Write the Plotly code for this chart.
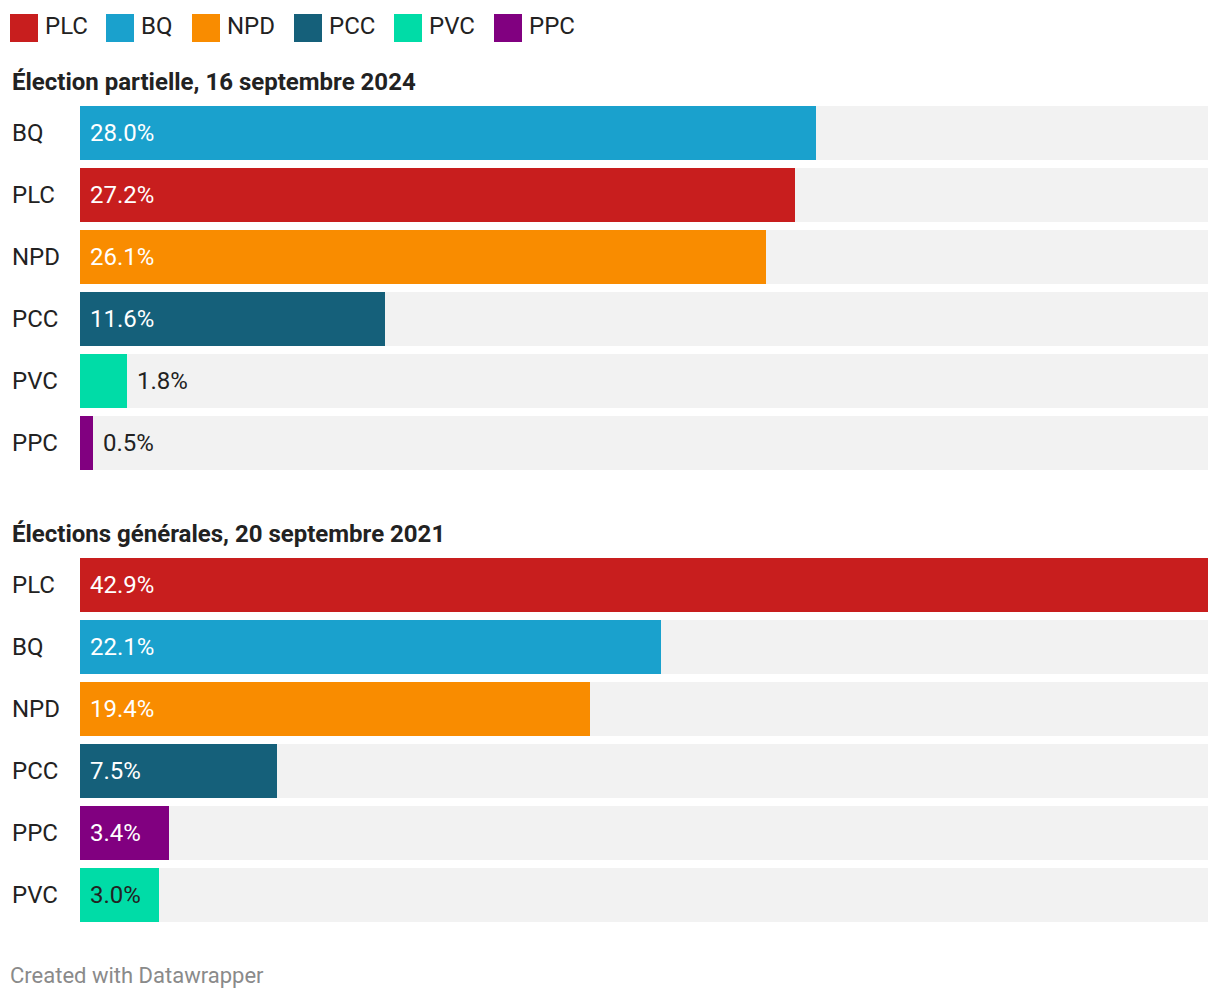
import plotly.graph_objects as go

# ---- data ----
parties = ["PLC", "BQ", "NPD", "PCC", "PVC", "PPC"]
party_colors = ["#c81e1e", "#1aa1cd", "#f98c00", "#15607a", "#00dca7", "#810080"]

title_2024 = "Élection partielle, 16 septembre 2024"
cats_2024 = ["BQ", "PLC", "NPD", "PCC", "PVC", "PPC"]
vals_2024 = [28.0, 27.2, 26.1, 11.6, 1.8, 0.5]

title_2021 = "Élections générales, 20 septembre 2021"
cats_2021 = ["PLC", "BQ", "NPD", "PCC", "PPC", "PVC"]
vals_2021 = [42.9, 22.1, 19.4, 7.5, 3.4, 3.0]

footer = "Created with Datawrapper"

# ---- layout helpers ----
OFF = 8  # page body margin
W, H = 1220 - 2 * OFF, 1000 - 2 * OFF
FONT = "Roboto"
DARK = "#222222"
color_of = dict(zip(parties, party_colors))
xmax = max(max(vals_2024), max(vals_2021))


def px_x(p):
    """page pixel -> paper x"""
    return (p - OFF) / W


def px_y(p):
    """page pixel -> paper y"""
    return 1 - (p - OFF) / H


fig = go.Figure()
annotations = []
shapes = []

panels = [
    (cats_2024, vals_2024, title_2024, "x", "y", 82),
    (cats_2021, vals_2021, title_2021, "x2", "y2", 534),
]

for cats, vals, title, xa, ya, ty in panels:
    ypos = list(range(len(cats)))
    fig.add_trace(go.Bar(
        x=[xmax] * len(cats), y=ypos, orientation="h", width=54 / 62,
        marker=dict(color="#f2f2f2", line=dict(width=0)),
        xaxis=xa, yaxis=ya, hoverinfo="skip", showlegend=False))
    fig.add_trace(go.Bar(
        x=vals, y=ypos, orientation="h", width=54 / 62,
        marker=dict(color=[color_of[c] for c in cats], line=dict(width=0)),
        xaxis=xa, yaxis=ya, showlegend=False,
        hovertemplate="%{x:.1f}%<extra></extra>"))
    annotations.append(dict(
        text="<b>" + title + "</b>", xref="paper", yref="paper",
        x=px_x(10), y=px_y(ty), xanchor="left", yanchor="middle",
        showarrow=False, font=dict(family=FONT, size=24, color=DARK)))
    for i, (c, v) in enumerate(zip(cats, vals)):
        annotations.append(dict(
            text=c, xref="paper", yref=ya, x=px_x(10), y=i,
            xanchor="left", yanchor="middle", showarrow=False,
            font=dict(family=FONT, size=24, color=DARK)))
        inside = v > 2.5
        if inside:
            tcol = DARK if c == "PVC" else "white"
            annotations.append(dict(
                text=f"{v:.1f}%", xref=xa, yref=ya, x=0, y=i, xshift=8,
                xanchor="left", yanchor="middle", showarrow=False,
                font=dict(family=FONT, size=24, color=tcol)))
        else:
            annotations.append(dict(
                text=f"{v:.1f}%", xref=xa, yref=ya, x=v, y=i, xshift=8,
                xanchor="left", yanchor="middle", showarrow=False,
                font=dict(family=FONT, size=24, color=DARK)))

# legend
leg_sq_x = [10, 106, 192, 294, 394, 494]
for p, col, sx in zip(parties, party_colors, leg_sq_x):
    shapes.append(dict(type="rect", xref="paper", yref="paper",
                       x0=px_x(sx), x1=px_x(sx + 28), y0=px_y(42), y1=px_y(14),
                       fillcolor=col, line=dict(width=0)))
    annotations.append(dict(
        text=p, xref="paper", yref="paper", x=px_x(sx + 33), y=px_y(26),
        xanchor="left", yanchor="middle", showarrow=False,
        font=dict(family=FONT, size=24, color=DARK)))

annotations.append(dict(
    text=footer, xref="paper", yref="paper", x=px_x(8), y=px_y(975),
    xanchor="left", yanchor="middle", showarrow=False,
    font=dict(family=FONT, size=22, color="#8a8a8a")))

axis_common = dict(showgrid=False, zeroline=False, showticklabels=False,
                   showline=False, ticks="", fixedrange=True)
fig.update_layout(
    width=W, height=H, margin=dict(l=0, r=0, t=0, b=0),
    paper_bgcolor="white", plot_bgcolor="white",
    barmode="overlay", bargap=0,
    xaxis=dict(domain=[px_x(80), px_x(1208)], range=[0, xmax], anchor="y", **axis_common),
    yaxis=dict(domain=[px_y(474), px_y(102)], range=[5.5, -0.5], anchor="x", **axis_common),
    xaxis2=dict(domain=[px_x(80), px_x(1208)], range=[0, xmax], anchor="y2", **axis_common),
    yaxis2=dict(domain=[px_y(926), px_y(554)], range=[5.5, -0.5], anchor="x2", **axis_common),
    annotations=annotations, shapes=shapes,
    font=dict(family=FONT),
    showlegend=False,
)

fig.write_html("out.html")
